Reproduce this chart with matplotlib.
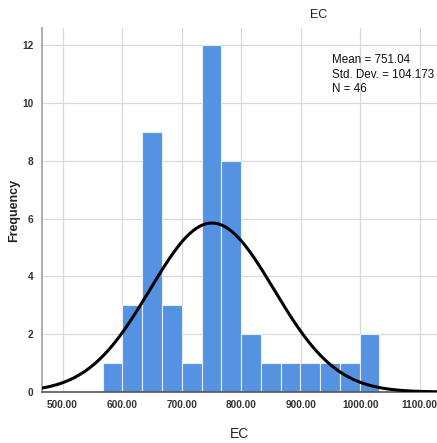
import numpy as np
import matplotlib
matplotlib.use("Agg")
import matplotlib.pyplot as plt

# histogram of EC
bin_start = 567.5
bin_width = 33.2
counts = [1, 3, 9, 3, 1, 12, 8, 2, 1, 1, 1, 1, 1, 2]
mean = 751.04
std_dev = 104.173
n = 46

x_ticks = [500, 600, 700, 800, 900, 1000, 1100]
y_ticks = [0, 2, 4, 6, 8, 10, 12]

plt.rcParams['font.family'] = ['Liberation Sans', 'DejaVu Sans']

fig = plt.figure(figsize=(4.37, 4.43), dpi=100)
ax = fig.add_axes([42 / 437, 51 / 443, 1 - 42 / 437, (392 - 28) / 443])

lefts = bin_start + bin_width * np.arange(len(counts))
ax.bar(lefts, counts, width=bin_width, align='edge', color='#5592e2',
	edgecolor='#e6eef9', linewidth=0.8, zorder=2)

xs = np.linspace(440, 1160, 400)
curve = n * bin_width / (std_dev * np.sqrt(2 * np.pi)) * np.exp(-0.5 * ((xs - mean) / std_dev) ** 2)
ax.plot(xs, curve, color='black', linewidth=2.2, zorder=3)

ax.set_xlim(465.5, 1129)
ax.set_ylim(0, 12.6)
ax.set_xticks(x_ticks)
ax.set_xticklabels(["{:.2f}".format(v) for v in x_ticks])
ax.set_yticks(y_ticks)
ax.tick_params(length=0, labelsize=7.3, colors='#333333', pad=6)
for lab in ax.get_xticklabels() + ax.get_yticklabels():
	lab.set_fontweight('bold')

ax.grid(True, color='#d9d9d9', linewidth=0.9, zorder=0)
ax.set_axisbelow(True)
for s in ['top', 'right']:
	ax.spines[s].set_visible(False)
ax.spines['left'].set_color('#a0a0a0')
ax.spines['bottom'].set_color('#555555')
ax.spines['left'].set_linewidth(1.2)
ax.spines['bottom'].set_linewidth(1.2)

ax.set_xlabel("EC", fontsize=10, labelpad=12, color='#222222')
ax.set_ylabel("Frequency", fontsize=9, fontweight='bold', labelpad=2, color='#222222')
fig.text(319 / 437, 1 - 15 / 443, "EC", ha='center', va='center', fontsize=9, color='#222222')

ax.text(953, 11.7, "Mean = 751.04\nStd. Dev. = 104.173\nN = 46",
	fontsize=8.4, va='top', ha='left', linespacing=1.3, color='#111111')

fig.savefig("out.png", dpi=100)
